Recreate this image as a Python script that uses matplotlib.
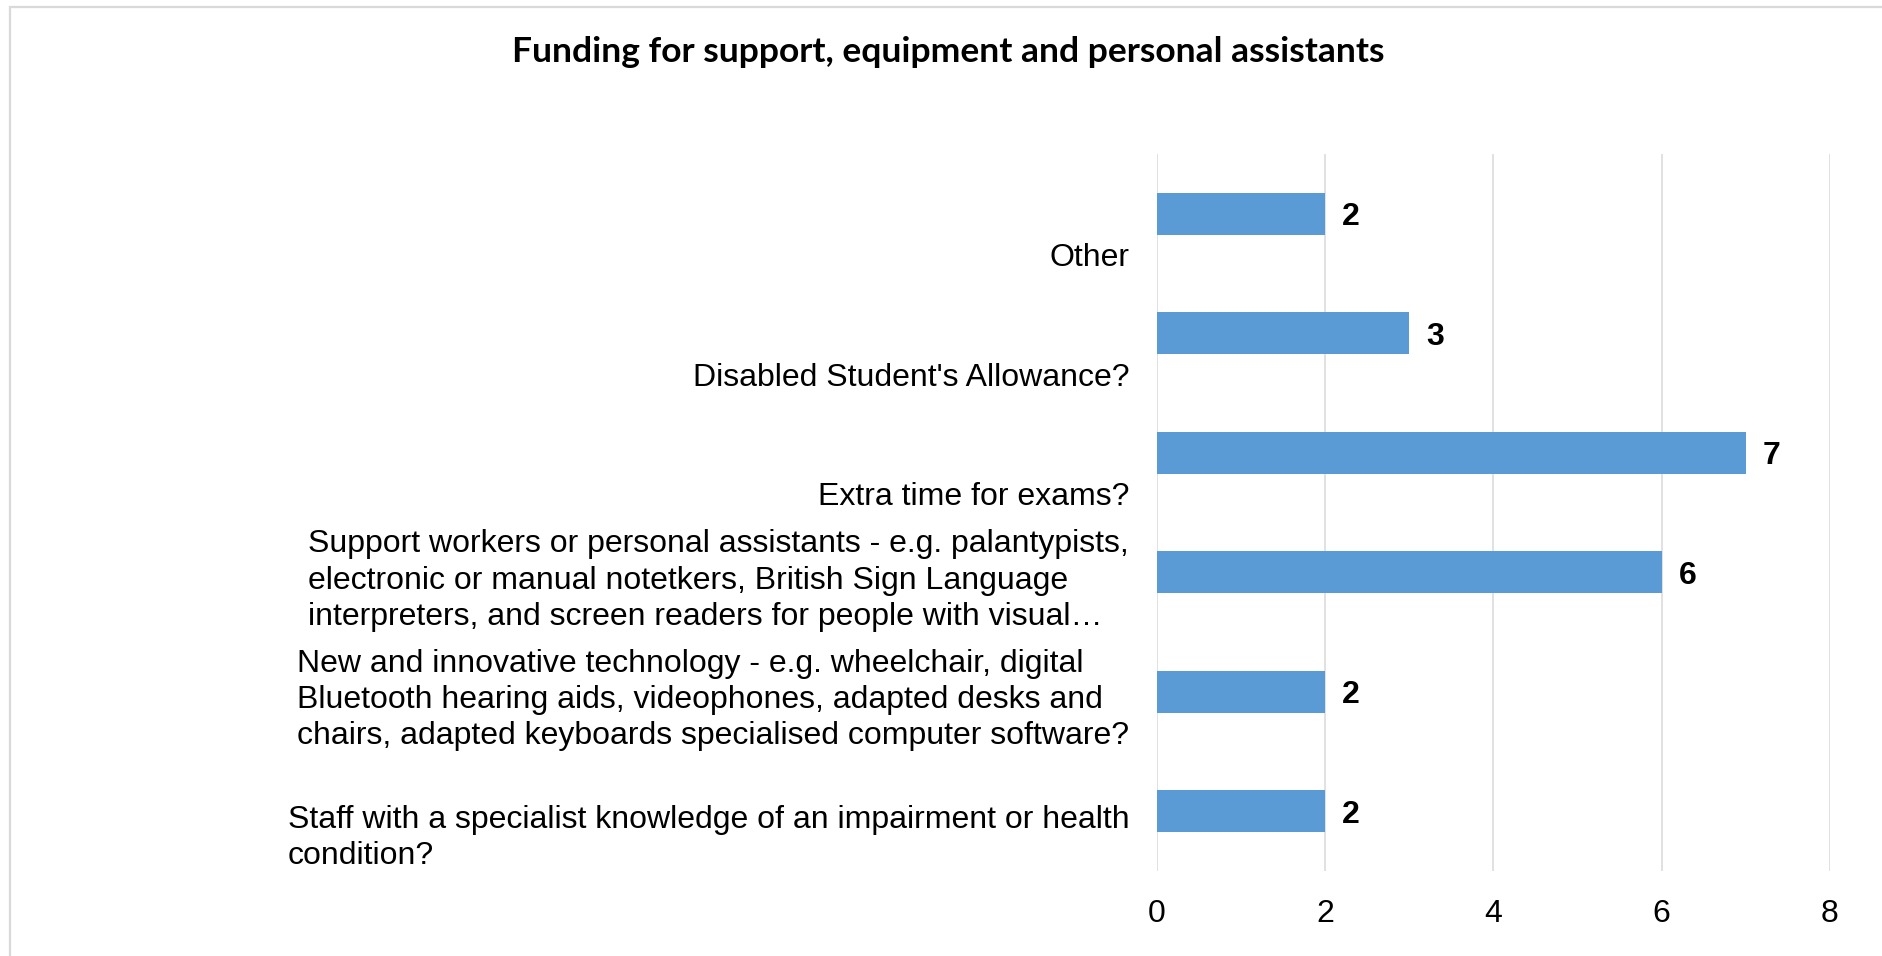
import matplotlib

matplotlib.use("Agg")
import matplotlib.pyplot as plt
from matplotlib.patches import Rectangle
from matplotlib.transforms import blended_transform_factory, ScaledTranslation


TITLE = "Funding for support, equipment and personal assistants"

categories = [
    "Other",
    "Disabled Student's Allowance?",
    "Extra time for exams?",
    "Support workers or personal assistants - e.g. palantypists,\n"
    "electronic or manual notetkers, British Sign Language\n"
    "interpreters, and screen readers for people with visual\u2026",
    "New and innovative technology - e.g. wheelchair, digital\n"
    "Bluetooth hearing aids, videophones, adapted desks and\n"
    "chairs, adapted keyboards specialised computer software?",
    "Staff with a specialist knowledge of an impairment or health\n"
    "condition?",
]
counts = [2, 3, 7, 6, 2, 2]
x_ticks = [0, 2, 4, 6, 8]

BAR_COLOR = "#5B9BD5"
GRID_COLOR = "#D9D9D9"
LABEL_FONT = ["Liberation Sans", "DejaVu Sans"]
FS = 23

W, H, DPI = 1883, 956, 100

fig = plt.figure(figsize=(W / DPI, H / DPI), dpi=DPI)
ax = fig.add_axes([1157 / W, 1 - 871 / H, (1830 - 1157) / W, (871 - 154) / H])

# outer chart border (only top and left edges fall inside the image)
fig.patches.append(
    Rectangle(
        (10 / W, -0.05),
        1.1,
        1.05 - 7 / H,
        transform=fig.transFigure,
        fill=False,
        edgecolor=GRID_COLOR,
        linewidth=1.6,
    )
)

pos = list(range(len(categories)))
ax.barh(pos, counts, height=0.35, color=BAR_COLOR, zorder=2)

ax.set_xlim(0, 8)
ax.set_ylim(len(categories) - 0.5, -0.5)
ax.set_xticks(x_ticks)
ax.set_xticklabels([str(t) for t in x_ticks], fontsize=FS, family=LABEL_FONT)
ax.set_yticks([])
ax.tick_params(axis="x", length=0, pad=20)
ax.grid(True, axis="x", color=GRID_COLOR, linewidth=1.1, zorder=0)
for s in ax.spines.values():
    s.set_visible(False)

# category labels sit below the bar centre, right-aligned block, left-aligned lines
trans = blended_transform_factory(ax.transAxes, ax.transData)
shift = ScaledTranslation(-20 / 72, -43 / 72, fig.dpi_scale_trans)
for y, label in zip(pos, categories):
    ax.text(
        0,
        y,
        label,
        transform=trans + shift,
        ha="right",
        va="bottom",
        multialignment="left",
        fontsize=FS,
        family=LABEL_FONT,
        linespacing=1.28,
    )

# value labels at bar ends
for y, v in zip(pos, counts):
    ax.annotate(
        str(v),
        xy=(v, y),
        xytext=(12, -2.5),
        textcoords="offset points",
        ha="left",
        va="center",
        fontsize=FS,
        fontweight="bold",
        family=LABEL_FONT,
    )

fig.text(
    948 / W,
    1 - 52 / H,
    TITLE,
    ha="center",
    va="center",
    fontsize=25.5,
    fontweight="bold",
    family=["Lato", "DejaVu Sans"],
)

fig.savefig("out.png", dpi=DPI)
